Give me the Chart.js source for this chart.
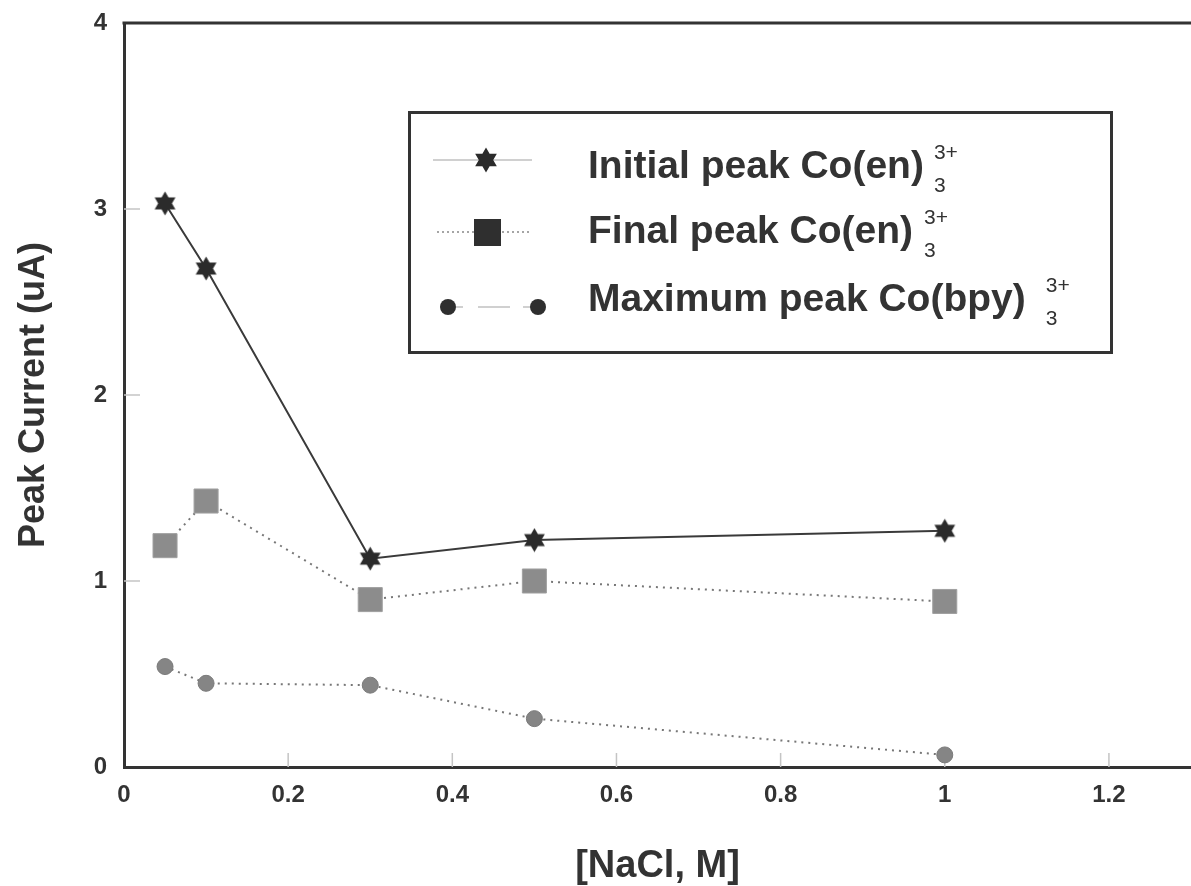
<!DOCTYPE html>
<html><head><meta charset="utf-8">
<script src="https://cdn.jsdelivr.net/npm/chart.js@4/dist/chart.umd.min.js"></script>
<style>html,body{margin:0;padding:0;background:#fff;overflow:hidden;} #wrap{width:1191px;height:886px;position:relative;}</style>
</head><body>
<div id="wrap"><canvas id="c" width="1191" height="886"></canvas></div>
<script>
// ---- data ----
const nacl = [0.05, 0.1, 0.3, 0.5, 1.0];
const initialPeakCoEn = [3.03, 2.68, 1.12, 1.22, 1.27];
const finalPeakCoEn = [1.19, 1.43, 0.90, 1.00, 0.89];
const maxPeakCoBpy = [0.54, 0.45, 0.44, 0.26, 0.065];
const xTicks = [0, 0.2, 0.4, 0.6, 0.8, 1, 1.2];
const yTicks = [0, 1, 2, 3, 4];
const legendLabels = ['Initial peak Co(en)', 'Final peak Co(en)', 'Maximum peak Co(bpy)'];
const legendSup = ['3+', '3+', '3+'];
const legendSub = ['3', '3', '3'];
const xTitle = '[NaCl, M]';
const yTitle = 'Peak Current (uA)';

const FONT = '"Liberation Sans", Arial, Helvetica, sans-serif';
Chart.defaults.font.family = FONT;
Chart.defaults.color = '#333';

function hexagramPath(ctx, cx, cy, r) {
  ctx.beginPath();
  for (let t = 0; t < 2; t++) {
    const start = t === 0 ? -Math.PI / 2 : Math.PI / 2;
    for (let i = 0; i < 3; i++) {
      const a = start + i * 2 * Math.PI / 3;
      const x = cx + r * Math.cos(a), y = cy + r * Math.sin(a);
      if (i === 0) ctx.moveTo(x, y); else ctx.lineTo(x, y);
    }
    ctx.closePath();
  }
}
function makeStar(size, color) {
  const c = document.createElement('canvas');
  c.width = size; c.height = size;
  const g = c.getContext('2d');
  g.fillStyle = color;
  hexagramPath(g, size / 2, size / 2, size / 2 - 0.5);
  g.fill('nonzero');
  return c;
}
const starImg = makeStar(25, '#2b2b2b');

const innerTicks = {
  id: 'innerTicks',
  beforeDatasetsDraw(chart) {
    const {ctx, chartArea: a, scales: {x, y}} = chart;
    ctx.save();
    ctx.strokeStyle = '#c4c4c4';
    ctx.lineWidth = 1.5;
    yTicks.forEach(v => {
      if (v === 0 || v === 4) return;
      const py = y.getPixelForValue(v);
      ctx.beginPath(); ctx.moveTo(a.left, py); ctx.lineTo(a.left + 16, py); ctx.stroke();
    });
    xTicks.forEach(v => {
      if (v === 0) return;
      const px = x.getPixelForValue(v);
      ctx.beginPath(); ctx.moveTo(px, a.bottom); ctx.lineTo(px, a.bottom - 14); ctx.stroke();
    });
    // top frame line
    ctx.strokeStyle = '#333';
    ctx.lineWidth = 3;
    ctx.beginPath(); ctx.moveTo(a.left - 1.5, a.top); ctx.lineTo(a.right, a.top); ctx.stroke();
    ctx.restore();
  }
};

const legendBox = {
  id: 'legendBox',
  afterDraw(chart) {
    const ctx = chart.ctx;
    ctx.save();
    ctx.strokeStyle = '#333';
    ctx.lineWidth = 3;
    ctx.strokeRect(409.5, 112.5, 702, 240);
    // row 1 sample
    ctx.strokeStyle = '#c0c0c0'; ctx.lineWidth = 1.5;
    ctx.beginPath(); ctx.moveTo(433, 160); ctx.lineTo(532, 160); ctx.stroke();
    ctx.fillStyle = '#2b2b2b';
    hexagramPath(ctx, 486, 160, 12.5); ctx.fill();
    // row 2 sample
    ctx.strokeStyle = '#888'; ctx.lineWidth = 1.5; ctx.setLineDash([2, 3]);
    ctx.beginPath(); ctx.moveTo(437, 232); ctx.lineTo(530, 232); ctx.stroke();
    ctx.setLineDash([]);
    ctx.fillStyle = '#2f2f2f';
    ctx.fillRect(474, 219, 27, 27);
    // row 3 sample
    ctx.strokeStyle = '#c0c0c0'; ctx.lineWidth = 1.5;
    [[456, 463], [478, 510], [523, 531]].forEach(s => {
      ctx.beginPath(); ctx.moveTo(s[0], 307); ctx.lineTo(s[1], 307); ctx.stroke();
    });
    ctx.fillStyle = '#2f2f2f';
    [448, 538].forEach(cx => { ctx.beginPath(); ctx.arc(cx, 307, 8, 0, Math.PI * 2); ctx.fill(); });
    // text
    const baselines = [178, 243, 311];
    const gaps = [10, 11, 20];
    ctx.fillStyle = '#333';
    ctx.textBaseline = 'alphabetic';
    ctx.textAlign = 'left';
    legendLabels.forEach((t, i) => {
      ctx.font = 'bold 39px ' + FONT;
      ctx.fillText(t, 588, baselines[i]);
      const w = ctx.measureText(t).width;
      ctx.font = '21px ' + FONT;
      ctx.fillText(legendSup[i], 588 + w + gaps[i], baselines[i] - 19);
      ctx.fillText(legendSub[i], 588 + w + gaps[i], baselines[i] + 14);
    });
    ctx.restore();
  }
};

new Chart(document.getElementById('c'), {
  type: 'line',
  data: {
    datasets: [
      {
        label: legendLabels[0],
        data: nacl.map((x, i) => ({x, y: initialPeakCoEn[i]})),
        borderColor: '#3a3a3a', borderWidth: 2,
        pointStyle: starImg, pointRadius: 12,
        backgroundColor: '#2b2b2b'
      },
      {
        label: legendLabels[1],
        data: nacl.map((x, i) => ({x, y: finalPeakCoEn[i]})),
        borderColor: '#777', borderWidth: 2, borderDash: [2, 5],
        pointStyle: 'rect', pointRadius: 17,
        pointBackgroundColor: '#8c8c8c', pointBorderColor: '#a0a0a0', pointBorderWidth: 1
      },
      {
        label: legendLabels[2],
        data: nacl.map((x, i) => ({x, y: maxPeakCoBpy[i]})),
        borderColor: '#777', borderWidth: 2, borderDash: [2, 5],
        pointStyle: 'circle', pointRadius: 8,
        pointBackgroundColor: '#858585', pointBorderColor: '#7a7a7a', pointBorderWidth: 1
      }
    ]
  },
  options: {
    responsive: false,
    animation: false,
    devicePixelRatio: 1,
    layout: {autoPadding: false, padding: {top: 23, right: 0, left: 0, bottom: 0}},
    plugins: {legend: {display: false}, tooltip: {enabled: false}},
    elements: {line: {tension: 0}},
    scales: {
      x: {
        type: 'linear', min: 0, max: 1.3,
        afterFit(s) { s.height = 119; s.paddingLeft = 0; s.paddingRight = 0; },
        afterBuildTicks(s) { s.ticks = xTicks.map(v => ({value: v})); },
        ticks: {padding: 14, font: {size: 24, weight: 'bold'}, color: '#333', callback: v => String(v)},
        grid: {display: true, drawOnChartArea: false, drawTicks: false},
        border: {display: true, color: '#333', width: 3},
        title: {display: true, text: xTitle, font: {size: 38, weight: 'bold', lineHeight: 1}, color: '#333', padding: {top: 0, bottom: 0}}
      },
      y: {
        type: 'linear', min: 0, max: 4,
        afterFit(s) { s.width = 124; s.paddingTop = 0; s.paddingBottom = 0; },
        afterBuildTicks(s) { s.ticks = yTicks.map(v => ({value: v})); },
        ticks: {padding: 17, font: {size: 24, weight: 'bold'}, color: '#333', callback: v => String(v)},
        grid: {display: true, drawOnChartArea: false, drawTicks: false},
        border: {display: true, color: '#333', width: 3},
        title: {display: true, text: yTitle, font: {size: 36, weight: 'bold', lineHeight: 1}, color: '#333', padding: {top: 16, bottom: 0}}
      }
    }
  },
  plugins: [innerTicks, legendBox]
});
</script>
</body></html>
